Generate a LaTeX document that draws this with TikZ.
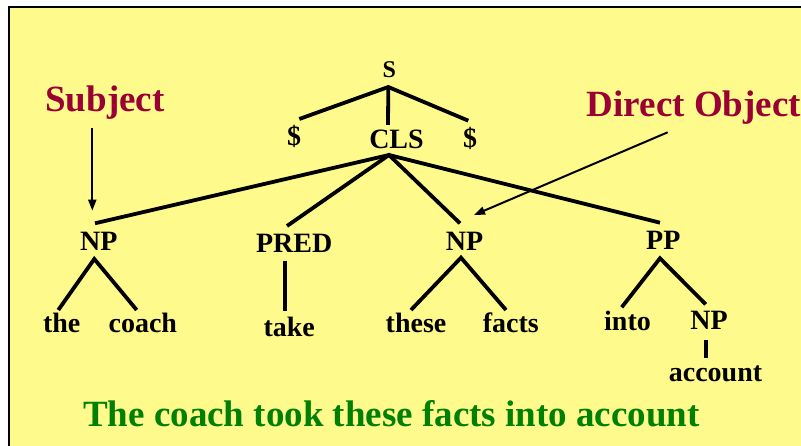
\documentclass[tikz,border=0pt]{standalone}
\usepackage{fontspec}
\setmainfont{Liberation Serif}
\usetikzlibrary{calc,arrows.meta}

\definecolor{panel}{RGB}{255,250,140}
\definecolor{labelred}{RGB}{153,0,51}
\definecolor{sentgreen}{RGB}{0,128,0}

\tikzset{
  cat/.style={anchor=base, inner sep=0pt, font=\fontsize{28}{30}\selectfont\bfseries},
  small/.style={cat, font=\fontsize{24}{26}\selectfont\bfseries},
  callout/.style={anchor=base, inner sep=0pt, text=labelred,
    font=\fontsize{37}{40}\selectfont\bfseries},
  branch/.style={line width=3.8pt},
  pointer/.style={line width=2pt, -{Triangle[length=11pt,width=8pt]}},
}

\begin{document}
\begin{tikzpicture}[x=1pt,y=1pt]
  \useasboundingbox (0,0) rectangle (801,446);
  \fill[white] (0,0) rectangle (801,446);
  \begin{scope}
    \clip (0,0) rectangle (801,446);
    \draw[line width=2pt, fill=panel] (9,-20) rectangle (830,439);
  \end{scope}

  % tree labels
  \node[small] (S)   at (389.3,368.7) {S};
  \node[cat]   (dl)  at (294,300)     {\$};
  \node[cat]   (cls) at (396.5,297)   {CLS};
  \node[cat]   (dr)  at (470,298)     {\$};

  \node[cat] (np1)  at (98.7,195.3)  {NP};
  \node[cat] (pred) at (294.2,193)   {PRED};
  \node[cat] (np2)  at (464.5,195.3) {NP};
  \node[cat] (pp)   at (663.3,196)   {PP};

  \node[cat] (the)    at (61.7,113)   {the};
  \node[cat] (coach)  at (142.8,113)  {coach};
  \node[cat] (take)   at (289.2,109.3){take};
  \node[cat] (these)  at (416,113)    {these};
  \node[cat] (facts)  at (510.8,113)  {facts};
  \node[cat] (into)   at (627.5,115.3){into};
  \node[cat] (np3)    at (709,116)    {NP};
  \node[cat] (acct)   at (715.5,64.3) {account};

  % branches
  \draw[branch] ($(dl.base)+(5.3,27)$) -- ($(S.base)+(-1,-9.7)$)
                -- ($(dr.base)+(-1.7,27.3)$);
  \draw[branch] ($(S.base)+(-1,-9.7)$) -- ($(cls.base)+(-8.5,24)$);

  \draw[branch] ($(np1.base)+(-3.7,27.4)$) -- ($(cls.base)+(-7.5,-6)$)
                -- ($(pp.base)+(-3.3,27.3)$);
  \draw[branch] ($(pred.base)+(-7.2,27)$) -- ($(cls.base)+(-7.5,-6)$)
                -- ($(np2.base)+(-4.5,27.4)$);

  \draw[branch] ($(the.base)+(-3.4,23)$) -- ($(np1.base)+(-4.4,-8.3)$)
                -- ($(coach.base)+(-6.1,23)$);
  \draw[branch] ($(pred.base)+(-9.2,-7.7)$) -- ($(take.base)+(-4.2,26)$);
  \draw[branch] ($(these.base)+(-5,23)$) -- ($(np2.base)+(-3.5,-7)$)
                -- ($(facts.base)+(-4.8,23)$);
  \draw[branch] ($(into.base)+(-5.8,23.4)$) -- ($(pp.base)+(-3.3,-8.3)$)
                -- ($(np3.base)+(-3.3,25.7)$);
  \draw[branch] ($(np3.base)+(-3,-10)$) -- ($(acct.base)+(-9.5,23.4)$);

  % role labels with pointers
  \node[callout] (subj) at (105,334.3) {Subject};
  \node[callout, anchor=base west] (dobj) at (586.7,329.3) {Direct Object};
  \draw[pointer] ($(subj.base)+(-12.7,-16.6)$) -- ($(np1.base)+(-6.4,40)$);
  \draw[pointer] ($(dobj.base west)+(81,-15.6)$) -- ($(np2.base)+(9.5,35.7)$);

  % sentence
  \node[anchor=base west, inner sep=0pt, text=sentgreen,
        font=\fontsize{37}{40}\selectfont\bfseries] (sent) at (83,19.3)
        {The coach took these facts into account};
\end{tikzpicture}
\end{document}
